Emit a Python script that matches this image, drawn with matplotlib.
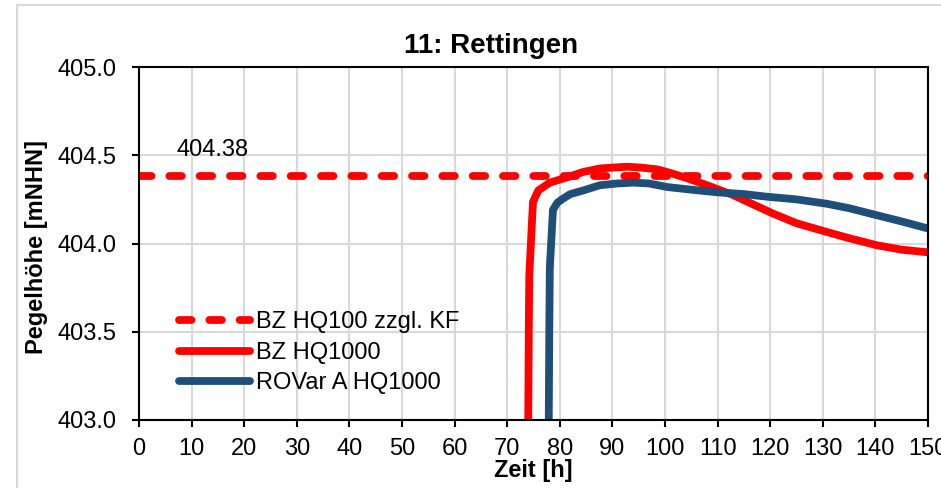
import matplotlib
matplotlib.use("Agg")
import matplotlib.pyplot as plt
from matplotlib.patches import Rectangle

plt.rcParams['font.family'] = ['Liberation Sans', 'DejaVu Sans']

# Bemessungswasserstand HQ100 zzgl. Freibord
level_hq100 = 404.38

# BZ HQ1000 (Zeit [h], Pegelhöhe [mNHN])
t_bz = [74.0, 74.1, 74.2, 74.9, 75.9, 78.1, 81.4, 84.4, 87.6, 90.0, 92.8, 95.5,
        98.5, 101.0, 104.2, 108.0, 112.9, 116.5, 120.5, 125.0, 130.8, 135.0,
        140.3, 145.0, 150.0]
h_bz = [403.0, 403.5, 403.82, 404.235, 404.30, 404.345, 404.375, 404.405,
        404.425, 404.43, 404.435, 404.43, 404.42, 404.40, 404.37, 404.33,
        404.275, 404.225, 404.17, 404.115, 404.065, 404.03, 403.99, 403.965,
        403.95]

# ROVar A HQ1000
t_ro = [77.9, 78.0, 78.1, 78.7, 79.5, 80.4, 82.0, 84.4, 87.6, 90.9, 94.0, 97.0,
        100.4, 105.0, 109.9, 115.0, 119.4, 125.0, 130.8, 135.0, 140.3, 145.0,
        150.0]
h_ro = [403.0, 403.5, 403.86, 404.19, 404.23, 404.25, 404.28, 404.30, 404.33,
        404.34, 404.345, 404.34, 404.32, 404.305, 404.29, 404.28, 404.265,
        404.25, 404.225, 404.20, 404.16, 404.125, 404.085]

x_ticks = list(range(0, 151, 10))
y_ticks = [403.0, 403.5, 404.0, 404.5, 405.0]

red = '#ff0000'
blue = '#1f4e79'
fs = 17

fig = plt.figure(figsize=(9.41, 4.88), dpi=100)
ax = fig.add_axes([139 / 941, 1 - 420 / 488, 789 / 941, 353 / 488])

ax.plot([0, 150], [level_hq100, level_hq100], color=red, lw=5.6,
        dashes=(1.6, 2.3), dash_capstyle='round', label='BZ HQ100 zzgl. KF')
ax.plot(t_bz, h_bz, color=red, lw=5.6, solid_capstyle='round', label='BZ HQ1000')
ax.plot(t_ro, h_ro, color=blue, lw=5.6, solid_capstyle='round', label='ROVar A HQ1000')

ax.text(7.2, 404.495, f'{level_hq100:.2f}', fontsize=fs, ha='left', va='baseline')

ax.set_xlim(0, 150)
ax.set_ylim(403.0, 405.0)
ax.set_xticks(x_ticks)
ax.set_yticks(y_ticks)
ax.set_yticklabels([f'{v:.1f}' for v in y_ticks])
ax.grid(True, color='#d9d9d9', lw=1.5)
ax.set_axisbelow(True)
ax.tick_params(axis='both', direction='out', length=5, width=1.5, labelsize=fs)
ax.tick_params(axis='y', pad=11)
ax.tick_params(axis='x', pad=8)
for s in ax.spines.values():
    s.set_linewidth(1.5)
    s.set_color('black')

ax.set_xlabel('Zeit [h]', fontsize=fs, fontweight='bold')
ax.xaxis.set_label_coords(0.5, -0.11)
ax.set_ylabel('Pegelhöhe [mNHN]', fontsize=fs, fontweight='bold')
ax.yaxis.set_label_coords(-0.115, 0.49)

fig.text(491 / 941, 1 - 53 / 488, '11: Rettingen', fontsize=20, fontweight='bold',
         ha='center', va='baseline')

ax.legend(loc='upper left', bbox_to_anchor=(0.051, 0.308), frameon=False,
          fontsize=fs, handlelength=3.0, handletextpad=0.25, labelspacing=0.36,
          borderpad=0, borderaxespad=0)

# Rahmen des Diagrammbereichs
fig.add_artist(Rectangle((17 / 941, -0.1), 1.0, 1.1 - 5 / 488, transform=fig.transFigure,
                         fill=False, ec='#d9d9d9', lw=1.5))

fig.savefig('out.png', dpi=100)
